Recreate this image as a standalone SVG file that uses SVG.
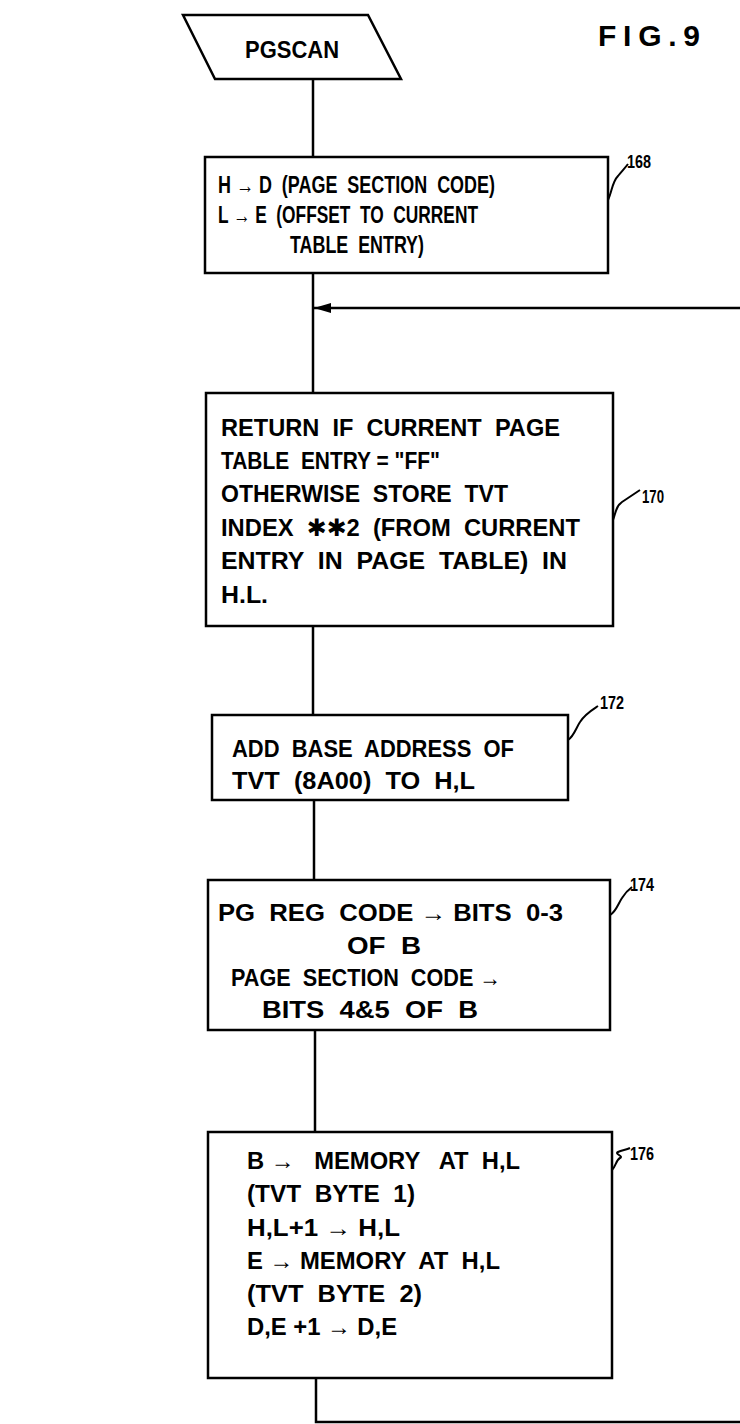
<svg xmlns="http://www.w3.org/2000/svg" width="740" height="1424" viewBox="0 0 740 1424">
<style>
.bx{fill:#fff;stroke:#000;stroke-width:2.5}
.ln{fill:none;stroke:#000;stroke-width:2.5}
.ld{fill:none;stroke:#000;stroke-width:2}
.t{font-family:"Liberation Sans","DejaVu Sans",Arial,sans-serif;font-weight:bold;font-size:24px;fill:#000;white-space:pre}
.s{font-size:23px}
.r{font-family:"Liberation Sans",Arial,sans-serif;font-weight:bold;font-size:19px;fill:#000}
</style>
<defs>
<marker id="ah" markerWidth="18" markerHeight="12" refX="17" refY="6" orient="auto" markerUnits="userSpaceOnUse">
<path d="M0,1 L17,6 L0,11 Z" fill="#000"/>
</marker>
</defs>
<rect width="740" height="1424" fill="#fff"/>
<text class="t" x="598" y="46" style="font-size:30px" textLength="102" lengthAdjust="spacing">FIG.9</text>
<g id="connectors">
<path class="ln" d="M313,79 V157"/>
<path class="ln" d="M313,273 V393"/>
<path class="ln" d="M740,308 H314" marker-end="url(#ah)"/>
<path class="ln" d="M313,626 V715"/>
<path class="ln" d="M314,800 V880"/>
<path class="ln" d="M315,1030 V1132"/>
<path class="ln" d="M316,1378 V1422 H740"/>
</g>
<g id="pgscan">
<path class="bx" d="M183,15 H368 L401,79 H215 Z"/>
<text class="t" x="245" y="58" textLength="94" lengthAdjust="spacingAndGlyphs">PGSCAN</text>
</g>
<g id="n168">
<rect class="bx" x="205" y="157" width="403" height="116"/>
<text class="t s" x="218" y="193" textLength="277" lengthAdjust="spacingAndGlyphs">H → D  (PAGE  SECTION  CODE)</text>
<text class="t s" x="218" y="223" textLength="260" lengthAdjust="spacingAndGlyphs">L → E  (OFFSET  TO  CURRENT</text>
<text class="t s" x="290" y="253" textLength="134" lengthAdjust="spacingAndGlyphs">TABLE  ENTRY)</text>
<path class="ld" d="M608,200 C612,192 612,182 618,176 C622,171 625,168 628,164"/>
<text class="r" x="627" y="168" textLength="24" lengthAdjust="spacingAndGlyphs">168</text>
</g>
<g id="n170">
<rect class="bx" x="206" y="393" width="407" height="233"/>
<text class="t" x="221" y="436" textLength="339" lengthAdjust="spacingAndGlyphs">RETURN  IF  CURRENT  PAGE</text>
<text class="t" x="221" y="469" textLength="219" lengthAdjust="spacingAndGlyphs">TABLE  ENTRY = "FF"</text>
<text class="t" x="221" y="502" textLength="287" lengthAdjust="spacingAndGlyphs">OTHERWISE  STORE  TVT</text>
<text class="t" x="221" y="536" textLength="359" lengthAdjust="spacingAndGlyphs">INDEX  ✱✱2  (FROM  CURRENT</text>
<text class="t" x="221" y="569" textLength="346" lengthAdjust="spacingAndGlyphs">ENTRY  IN  PAGE  TABLE)  IN</text>
<text class="t" x="221" y="603" textLength="47" lengthAdjust="spacingAndGlyphs">H.L.</text>
<path class="ld" d="M613,520 C616,512 616,506 622,502 C628,498 634,494 640,490"/>
<text class="r" x="642" y="503" textLength="22" lengthAdjust="spacingAndGlyphs">170</text>
</g>
<g id="n172">
<rect class="bx" x="212" y="715" width="356" height="85"/>
<text class="t" x="232" y="757" textLength="282" lengthAdjust="spacingAndGlyphs">ADD  BASE  ADDRESS  OF</text>
<text class="t" x="232" y="789" textLength="243" lengthAdjust="spacingAndGlyphs">TVT  (8A00)  TO  H,L</text>
<path class="ld" d="M568,740 C574,736 576,728 580,722 C585,714 592,710 598,706"/>
<text class="r" x="600" y="709" textLength="24" lengthAdjust="spacingAndGlyphs">172</text>
</g>
<g id="n174">
<rect class="bx" x="208" y="880" width="402" height="150"/>
<text class="t" x="218" y="921" textLength="345" lengthAdjust="spacingAndGlyphs">PG  REG  CODE → BITS  0-3</text>
<text class="t" x="347" y="954" textLength="74" lengthAdjust="spacingAndGlyphs">OF  B</text>
<text class="t" x="231" y="986" textLength="270" lengthAdjust="spacingAndGlyphs">PAGE  SECTION  CODE →</text>
<text class="t" x="262" y="1018" textLength="216" lengthAdjust="spacingAndGlyphs">BITS  4&amp;5  OF  B</text>
<path class="ld" d="M610,915 C616,912 618,904 622,898 C625,893 628,890 632,887"/>
<text class="r" x="630" y="891" textLength="24" lengthAdjust="spacingAndGlyphs">174</text>
</g>
<g id="n176">
<rect class="bx" x="208" y="1132" width="404" height="246"/>
<text class="t" x="247" y="1169" textLength="273" lengthAdjust="spacingAndGlyphs">B →   MEMORY   AT  H,L</text>
<text class="t" x="247" y="1202" textLength="168" lengthAdjust="spacingAndGlyphs">(TVT  BYTE  1)</text>
<text class="t" x="247" y="1236" textLength="153" lengthAdjust="spacingAndGlyphs">H,L+1 → H,L</text>
<text class="t" x="247" y="1269" textLength="253" lengthAdjust="spacingAndGlyphs">E → MEMORY  AT  H,L</text>
<text class="t" x="247" y="1302" textLength="175" lengthAdjust="spacingAndGlyphs">(TVT  BYTE  2)</text>
<text class="t" x="247" y="1335" textLength="150" lengthAdjust="spacingAndGlyphs">D,E +1 → D,E</text>
<path class="ld" d="M612,1170 C616,1166 616,1160 620,1158 C624,1156 614,1154 618,1152 C622,1150 626,1150 630,1148"/>
<text class="r" x="630" y="1160" textLength="24" lengthAdjust="spacingAndGlyphs">176</text>
</g>
</svg>
